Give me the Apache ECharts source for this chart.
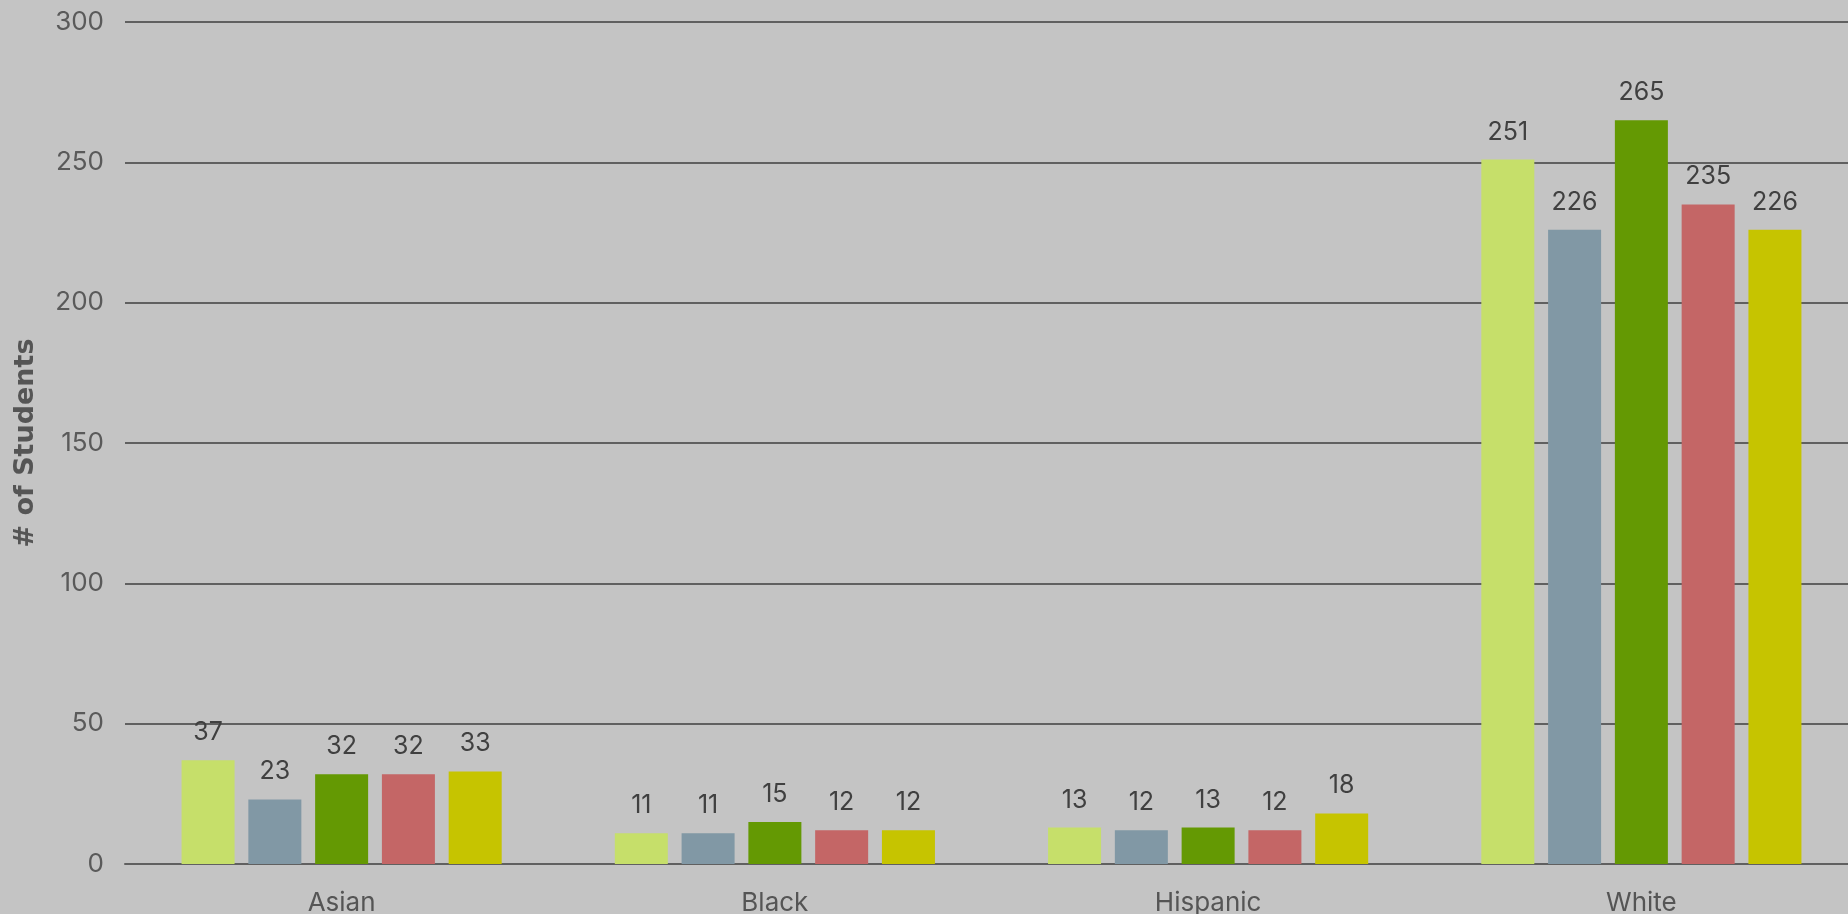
<!DOCTYPE html>
<html>
<head>
<meta charset="utf-8">
<script src="https://cdn.jsdelivr.net/npm/echarts@6/dist/echarts.min.js"></script>
<style>
html,body{margin:0;padding:0;background:#c4c4c4;}
#chart{width:1848px;height:914px;}
</style>
</head>
<body>
<div id="chart"></div>
<script>
const categories = ['Asian', 'Black', 'Hispanic', 'White'];
const seriesNames = ['Series 1', 'Series 2', 'Series 3', 'Series 4', 'Series 5'];
const series1 = [37, 11, 13, 251];
const series2 = [23, 11, 12, 226];
const series3 = [32, 15, 13, 265];
const series4 = [32, 12, 12, 235];
const series5 = [33, 12, 18, 226];
const colors = ['#c6df6a', '#8198a5', '#649903', '#c46666', '#c6c400'];
const yTicks = [0, 50, 100, 150, 200, 250, 300];

const chart = echarts.init(document.getElementById('chart'));
const allData = [series1, series2, series3, series4, series5];
const FONT = 'Inter';
chart.setOption({
  backgroundColor: '#c4c4c4',
  animation: false,
  grid: {left: 125, width: 1733, top: 22, height: 842, outerBoundsMode: 'none', containLabel: false},
  xAxis: {
    type: 'category',
    data: categories,
    axisLine: {show: true, lineStyle: {color: '#606060', width: 2}},
    axisTick: {show: false},
    axisLabel: {color: '#555555', fontSize: 26, fontFamily: FONT, margin: 26}
  },
  yAxis: {
    type: 'value',
    min: yTicks[0],
    max: yTicks[yTicks.length - 1],
    interval: 50,
    name: '# of Students',
    nameLocation: 'middle',
    nameGap: 86,
    nameTextStyle: {color: '#555555', fontSize: 27, fontWeight: 'bold', fontFamily: 'DejaVu Sans'},
    axisLine: {show: false},
    axisTick: {show: false},
    axisLabel: {color: '#5a5a5a', fontSize: 26, fontFamily: FONT, margin: 21},
    splitLine: {lineStyle: {color: '#606060', width: 2}}
  },
  series: allData.map((d, i) => ({
    name: seriesNames[i],
    type: 'bar',
    data: d,
    barWidth: 53,
    barGap: '26%',
    itemStyle: {color: colors[i]},
    label: {show: true, position: 'top', distance: 15, color: '#404040', fontSize: 25, fontFamily: FONT}
  }))
});
</script>
</body>
</html>
